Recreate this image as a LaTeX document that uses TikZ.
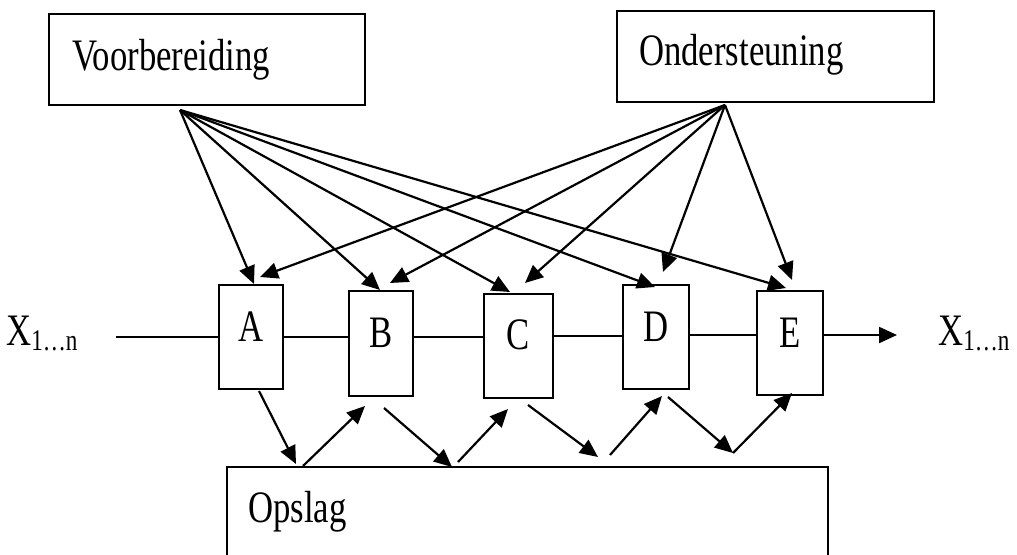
\documentclass[tikz,border=0pt]{standalone}
\usepackage{fontspec}
\setmainfont{Liberation Serif}[FakeStretch=0.771]
\usetikzlibrary{arrows.meta}
\newcommand\mainsz{\fontsize{45}{54}\selectfont}
\newcommand\subsz{\fontsize{30}{32}\selectfont}
\begin{document}
\begin{tikzpicture}[x=1pt,y=-1pt,
  box/.style={draw, line width=2.2pt, rectangle, inner sep=0pt},
  stage/.style={box},
  lbl/.style={inner sep=0pt, font=\mainsz},
  conn/.style={line width=2.2pt},
  arr/.style={conn, -{Triangle[length=18pt,width=16pt]}}]
\useasboundingbox (0,0) rectangle (1017,554);
\clip (0,0) rectangle (1017,554);
% top boxes
\node[box, minimum width=316pt, minimum height=91pt, anchor=north west] (V) at (48,13) {};
\node[lbl, anchor=base west] (Vt) at (72,70) {Voorbereiding};
\node[box, minimum width=317pt, minimum height=91pt, anchor=north west] (O) at (616,10) {};
\node[lbl, anchor=base west] (Ot) at (639,65) {Ondersteuning};
% stages
\node[stage, minimum width=64pt, minimum height=104pt] (A) at (251,337) {};
\node[stage, minimum width=64pt, minimum height=105pt] (B) at (381,343.5) {};
\node[stage, minimum width=69pt, minimum height=104pt] (C) at (518.5,346) {};
\node[stage, minimum width=66pt, minimum height=104pt] (D) at (656,337) {};
\node[stage, minimum width=66pt, minimum height=104pt] (E) at (790,343) {};
\node[lbl, anchor=base] (At) at ([yshift=-4pt]A.center) {A};
\node[lbl, anchor=base] (Bt) at ([yshift=-4pt]B.center) {B};
\node[lbl, anchor=base] (Ct) at ([yshift=-3pt]C.center) {C};
\node[lbl, anchor=base] (Dt) at ([yshift=-4pt]D.center) {D};
\node[lbl, anchor=base] (Et) at ([yshift=-4pt]E.center) {E};
% storage
\node[box, minimum width=601pt, minimum height=110pt, anchor=north west] (S) at (226,466) {};
\node[lbl, anchor=base west] (St) at (248,522) {Opslag};
% X labels
\node[lbl, anchor=base west] (Xin) at (6,345) {X\raisebox{-5pt}{\subsz 1…n}};
\node[lbl, anchor=base west] (Xout) at (938,345) {X\raisebox{-5pt}{\subsz 1…n}};
% main line
\coordinate (in) at (116,337);
\coordinate (out) at (897,335);
\draw[conn] (in) -- (in -| A.west);
\draw[conn] (A.east) -- (A.east -| B.west);
\draw[conn] (A.east -| B.east) -- (A.east -| C.west);
\draw[conn] (C.east |- 0,336) -- (D.west |- 0,336);
\draw[conn] (D.east |- 0,335) -- (E.west |- 0,335);
\draw[arr] (E.east |- out) -- (out);
% sources
\coordinate (vs) at (180,110);
\coordinate (os) at (725,105);
% targets
\coordinate (vA) at (254,284);
\coordinate (oA) at (260,277);
\coordinate (vB) at (380,290);
\coordinate (oB) at (390,283);
\coordinate (vC) at (510,292);
\coordinate (oC) at (525,283);
\coordinate (vD) at (655,287);
\coordinate (oD) at (663,272);
\coordinate (vE) at (786,288);
\coordinate (oE) at (792,280);
\foreach \t in {A,B,C,D,E} {
  \draw[arr] (vs) -- (v\t);
  \draw[arr] (os) -- (o\t);
}
% storage arrows
\coordinate (p1) at (259,391); \coordinate (q1) at (296,464);
\coordinate (p2) at (303,466); \coordinate (q2) at (365,406);
\coordinate (p3) at (384,408); \coordinate (q3) at (452,467);
\coordinate (p4) at (458,462); \coordinate (q4) at (508,409);
\coordinate (p5) at (528,405); \coordinate (q5) at (598,457);
\coordinate (p6) at (610,455); \coordinate (q6) at (662,396);
\coordinate (p7) at (668,397); \coordinate (q7) at (733,453);
\coordinate (p8) at (733,453); \coordinate (q8) at (792,393);
\foreach \i in {1,...,8} {
  \draw[arr] (p\i) -- (q\i);
}
\end{tikzpicture}
\end{document}
